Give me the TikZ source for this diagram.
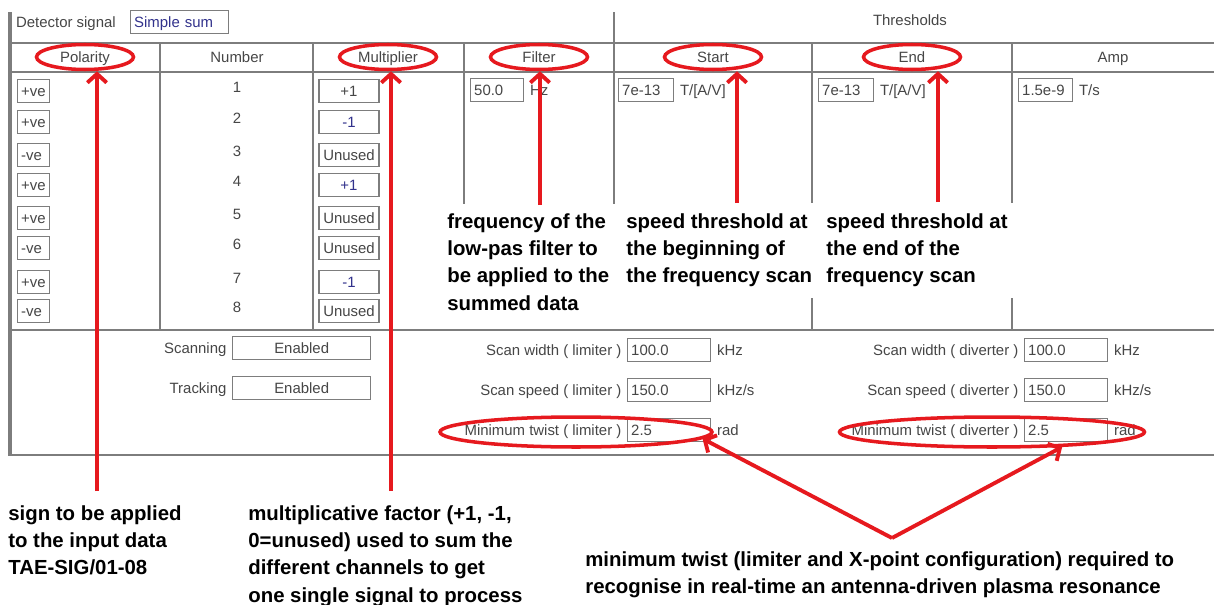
\documentclass[tikz,border=0pt]{standalone}
\usepackage{fontspec}
\setmainfont{Liberation Sans}
\usetikzlibrary{arrows.meta,positioning,shapes.geometric}

\definecolor{ink}{RGB}{70,70,70}
\definecolor{navy}{RGB}{50,50,140}
\definecolor{pen}{RGB}{230,25,30}
\definecolor{rule}{RGB}{125,125,125}

\tikzset{
  panel/.style={draw=rule, line width=1.6pt},
  lbl/.style={font=\fontsize{8.5}{10}\selectfont, text=ink, inner sep=1pt, text height=1.6ex, text depth=0.4ex},
  field/.style={lbl, draw=rule, line width=0.8pt, fill=white, inner xsep=2pt, inner ysep=1.2pt, minimum height=0.42cm},
  entry/.style={field, text width=#1, align=left},
  ring/.style={ellipse, draw=pen, line width=2pt, minimum height=0.5cm, minimum width=1.94cm},
  note/.style={anchor=north west, align=left, inner sep=0pt, font=\fontsize{11.6}{15.6}\selectfont\bfseries},
  pointer/.style={draw=pen, line width=2.2pt, -{Straight Barb[length=5pt,width=11pt]}}
}

\begin{document}
\begin{tikzpicture}[x=0.02cm, y=-0.02cm, node distance=2pt]
  \fill[white] (0,0) rectangle (1214,605);
  \useasboundingbox (0,0) rectangle (1214,605);

  % table lines
  \draw[panel, line width=2.2pt] (10,12) -- (10,456);
  \draw[panel] (10,43) -- (1214,43) (10,72) -- (1214,72)
               (10,330) -- (1214,330) (10,455) -- (1214,455);
  \draw[panel] (614,12) -- (614,204) (160,43) -- (160,330) (313,43) -- (313,330)
               (464,43) -- (464,204);
  \foreach \x in {812,1012}
    \draw[panel] (\x,43) -- (\x,203) (\x,298) -- (\x,330);

  \node[lbl, anchor=west] (det) at (14,22) {Detector signal};
  \node[entry=1.82cm, anchor=west, text=navy] (sig) at (130,22) {Simple sum};
  \node[lbl] (thr) at (910,20) {Thresholds};

  \foreach \n/\t/\x in {Pol/Polarity/85, Num/Number/237, Mul/Multiplier/388, Fil/Filter/539,
                        Sta/Start/713, End/End/912, Amp/Amp/1113}
    \node[lbl] (h\n) at (\x,57) {\t};

  \foreach \pol/\mul/\col/\y [count=\i] in {+ve/+1/ink/91, +ve/-1/navy/122, -ve/Unused/ink/155,
      +ve/+1/navy/185, +ve/Unused/ink/218, -ve/Unused/ink/248, +ve/-1/navy/282, -ve/Unused/ink/311}
  {
    \node[entry=0.5cm, anchor=west] (pol\i) at (17,\y) {\pol};
    \node[lbl] (num\i) at (237,\y-4) {\i};
    \node[field, minimum width=1.2cm, text=\col] (mul\i) at (349,\y) {\mul};
  }

  \node[entry=0.92cm, anchor=west] (vFil) at (470,90) {50.0};
  \node[lbl, right=of vFil] (uFil) {Hz};
  \node[entry=0.96cm, anchor=west] (vSta) at (618,90) {7e-13};
  \node[lbl, right=of vSta] (uSta) {T/[A/V]};
  \node[entry=0.96cm, anchor=west] (vEnd) at (818,90) {7e-13};
  \node[lbl, right=of vEnd] (uEnd) {T/[A/V]};
  \node[entry=0.94cm, anchor=west] (vAmp) at (1018,90) {1.5e-9};
  \node[lbl, right=of vAmp] (uAmp) {T/s};

  \node[field, minimum width=2.76cm, anchor=west] (vScan) at (232,348) {Enabled};
  \node[lbl, left=of vScan] (lScan) {Scanning};
  \node[field, minimum width=2.76cm, anchor=west] (vTrack) at (232,388) {Enabled};
  \node[lbl, left=of vTrack] (lTrack) {Tracking};

  \foreach \q/\lab/\val/\unit/\y in {w/Scan width/100.0/kHz/350, s/Scan speed/150.0/{kHz/s}/390,
                                     t/Minimum twist/2.5/rad/430}
  {
    \node[entry=1.52cm, anchor=west] (lim\q) at (627,\y) {\val};
    \node[lbl, left=of lim\q] (llim\q) {\lab\ ( limiter )};
    \node[lbl, right=of lim\q] (ulim\q) {\unit};
    \node[entry=1.52cm, anchor=west] (div\q) at (1024,\y) {\val};
    \node[lbl, left=of div\q] (ldiv\q) {\lab\ ( diverter )};
    \node[lbl, right=of div\q] (udiv\q) {\unit};
  }

  % red marks
  \foreach \n in {Pol,Mul,Fil,Sta,End}
    \node[ring] (r\n) at (h\n) {};
  \node[ring, minimum width=5.44cm, minimum height=0.6cm] (rTwL) at (576,432) {};
  \node[ring, minimum width=6.1cm, minimum height=0.6cm] (rTwD) at (992,432) {};

  \node[note] (nPol) at (8,505) {sign to be applied\\to the input data\\TAE-SIG/01-08};
  \node[note] (nMul) at (248,505) {multiplicative factor (+1, -1,\\0=unused) used to sum the\\different channels to get\\one single signal to process};
  \node[note] (nFil) at (447,213) {frequency of the\\low-pas filter to\\be applied to the\\summed data};
  \node[note] (nSta) at (626,213) {speed threshold at\\the beginning of\\the frequency scan};
  \node[note] (nEnd) at (826,213) {speed threshold at\\the end of the\\frequency scan};
  \node[note] (nTw) at (585,551) {minimum twist (limiter and X-point configuration) required to\\recognise in real-time an antenna-driven plasma resonance};

  \coordinate (aPol) at (97,491);
  \coordinate (aMul) at (391,491);
  \coordinate (aFil) at (540,205);
  \coordinate (aSta) at (737,203);
  \coordinate (aEnd) at (938,202);
  \coordinate (apex) at (892,538);

  \foreach \n in {Pol,Mul,Fil,Sta,End}
    \draw[pointer] (a\n) -- (a\n |- r\n.south);
  \draw[pointer] (apex) -- (rTwL.-3.5);
  \draw[pointer] (apex) -- (rTwD.-12);
\end{tikzpicture}
\end{document}
